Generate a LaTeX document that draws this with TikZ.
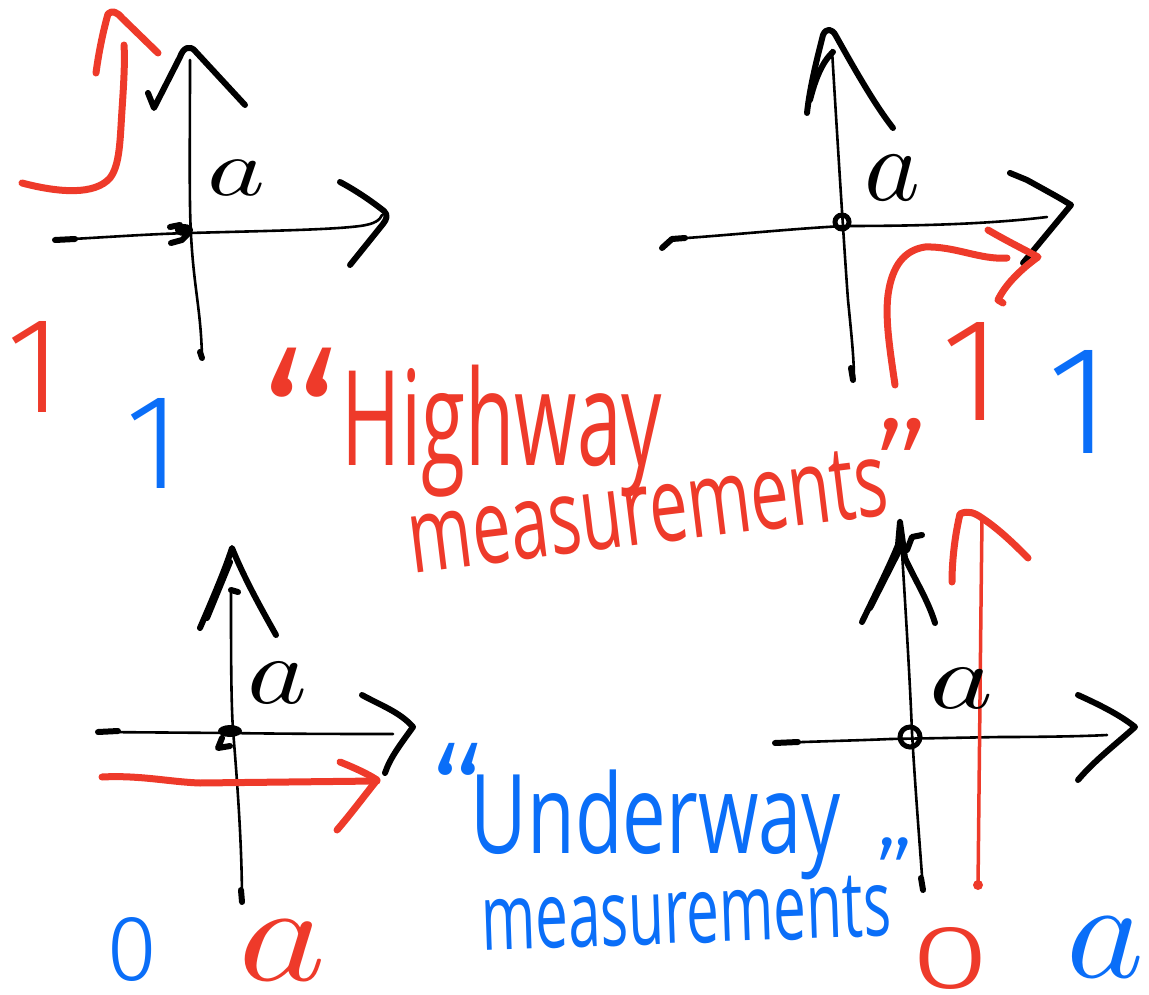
\documentclass[tikz,border=0pt]{standalone}
\usepackage{fontspec}
\setmainfont{Open Sans}
\newfontfamily\thinfont{Fira Sans}[UprightFont={* Light}]
\usepackage{graphicx}
\definecolor{hred}{HTML}{EE3A2A}
\definecolor{hblue}{HTML}{0A6EF8}
\tikzset{
  axisline/.style={line width=2.6pt, line cap=round, line join=round, black},
  headline/.style={line width=6pt, line cap=round, line join=round, black},
  redline/.style={line width=7pt, line cap=round, line join=round, hred},
  lbl/.style={inner sep=0pt, outer sep=0pt},
  redlbl/.style={lbl, text=hred},
  bluelbl/.style={lbl, text=hblue},
  blacklbl/.style={lbl, text=black},
}
\newcommand{\fitbox}[3]{\resizebox*{#1}{#2}{#3}}
\begin{document}
\begin{tikzpicture}[x=1pt,y=-1pt]
\useasboundingbox (0,0) rectangle (1149,995);

% ---------- panel 1 (top left) ----------
\draw[axisline] (190,60) .. controls (190,140) and (189,200) .. (191,235) .. controls (194,290) and (201,310) .. (202,358);
\draw[axisline] (55,240) .. controls (110,237) and (150,234) .. (190,233) .. controls (260,231) and (330,230) .. (360,226) .. controls (375,224) and (380,220) .. (382,215);
\draw[headline] (55,240) -- (75,239);
\draw[headline] (148,93) -- (154,108) -- (180,57) .. controls (183,48) and (190,44) .. (196,52) -- (245,105);
\draw[headline] (340,182) .. controls (355,190) and (370,200) .. (384,211) .. controls (388,215) and (387,219) .. (383,224) -- (350,265);
\draw[headline] (200,352) -- (202,358);
\fill (184,230) ellipse [x radius=9, y radius=6];
\draw[headline] (170,227) -- (180,225);
\draw[headline] (171,243) -- (182,240) -- (188,234);
\draw[redline] (22,183) .. controls (60,193) and (95,195) .. (110,178) .. controls (120,165) and (120,140) .. (122,110) .. controls (124,80) and (125,60) .. (124,45);
\draw[redline] (96,73) .. controls (99,50) and (104,28) .. (108,14) .. controls (112,10) and (117,12) .. (122,18) -- (158,53);
\node[blacklbl] (a1) at (237,178) {\fitbox{58pt}{35pt}{$a$}};
\node[redlbl] (r1a) at (35,367) {\fitbox{!}{91pt}{\thinfont 1}};
\node[bluelbl] (b1a) at (153,443) {\fitbox{!}{90pt}{\thinfont 1}};

% ---------- panel 2 (top right) ----------
\draw[axisline] (832,50) .. controls (838,150) and (845,260) .. (848,300) .. controls (852,340) and (854,360) .. (854,380);
\draw[headline] (851,368) -- (853,380);
\draw[axisline] (672,239) .. controls (720,236) and (800,228) .. (845,226) .. controls (920,226) and (990,224) .. (1047,217);
\draw[headline] (662,248) -- (672,239) -- (685,238);
\draw[headline] (1010,173) -- (1027,180) .. controls (1045,190) and (1060,198) .. (1071,205) -- (1023,263);
\draw[headline] (807,113) .. controls (810,85) and (818,55) .. (823,35) .. controls (826,28) and (832,28) .. (836,36) .. controls (855,70) and (875,105) .. (893,128);
\draw[headline] (810,100) .. controls (815,80) and (822,62) .. (833,52);
\draw[line width=5pt] (842,222) circle (7);
\draw[redline] (895,385) .. controls (890,350) and (885,320) .. (888,295) .. controls (892,265) and (905,250) .. (925,247) .. controls (955,246) and (980,260) .. (1007,258);
\draw[redline] (988,230) .. controls (1005,240) and (1025,250) .. (1038,257) .. controls (1020,270) and (1005,285) .. (998,300) -- (1003,303);
\node[blacklbl] (a2) at (892,178) {\fitbox{56pt}{45pt}{$a$}};
\node[redlbl] (r2a) at (972,371) {\fitbox{!}{98pt}{\thinfont 1}};
\node[bluelbl] (b2a) at (1079,402) {\fitbox{!}{103pt}{\thinfont 1}};

% ---------- panel 3 (bottom left) ----------
\draw[axisline] (231,590) .. controls (231,650) and (231,700) .. (233,730) .. controls (238,790) and (242,850) .. (242,902);
\draw[headline] (238,592) -- (231,590);
\draw[headline] (241,890) -- (242,902);
\draw[headline] (200,628) .. controls (212,600) and (225,570) .. (232,548) .. controls (245,580) and (262,610) .. (276,635);
\draw[headline] (207,618) -- (230,562);
\draw[axisline] (98,732) -- (227,733) .. controls (300,734) and (350,734) .. (393,734);
\draw[headline] (98,732) -- (118,731);
\draw[headline] (362,695) .. controls (380,705) and (400,712) .. (413,727) .. controls (400,745) and (390,758) .. (385,773);
\fill (230,731) ellipse [x radius=12, y radius=6];
\draw[headline] (222,738) -- (218,748) -- (230,746);
\draw[redline] (102,777) .. controls (140,775) and (170,782) .. (200,783) -- (377,781);
\draw[redline] (340,762) .. controls (355,768) and (368,774) .. (377,780) .. controls (365,795) and (350,815) .. (337,830);
\node[blacklbl] (a3) at (278,683) {\fitbox{60pt}{41pt}{$a$}};
\node[bluelbl] (b3a) at (132,950) {\fitbox{!}{64pt}{\thinfont 0}};
\node[redlbl] (r3a) at (283,950) {\fitbox{88pt}{60pt}{$a$}};

% ---------- panel 4 (bottom right) ----------
\draw[axisline] (900,520) .. controls (905,600) and (910,680) .. (912,733) .. controls (916,800) and (921,860) .. (923,890);
\draw[headline] (921,878) -- (923,890);
\draw[headline] (862,622) .. controls (875,595) and (890,565) .. (898,545) -- (900,522) -- (905,558) .. controls (915,580) and (928,600) .. (935,623);
\draw[headline] (870,608) -- (902,545);
\draw[headline] (922,535) -- (912,537) -- (907,550);
\draw[axisline] (775,743) .. controls (830,741) and (870,740) .. (890,739) -- (1000,737) .. controls (1050,737) and (1090,736) .. (1107,735);
\draw[headline] (775,743) -- (798,742);
\draw[headline] (1078,695) .. controls (1100,705) and (1120,715) .. (1135,727) .. controls (1115,745) and (1095,760) .. (1078,780);
\draw[line width=5pt] (910,737) circle (10);
\draw[hred, line width=3.5pt, line cap=round] (978,887) .. controls (980,700) and (981,600) .. (982,520);
\fill[hred] (978,885) circle (5);
\draw[redline] (952,582) .. controls (952,560) and (955,535) .. (960,514) .. controls (968,510) and (975,513) .. (982,518) .. controls (1000,530) and (1015,545) .. (1028,558);
\node[blacklbl] (a4) at (962,688) {\fitbox{64pt}{40pt}{$a$}};
\node[redlbl] (r4a) at (950,958) {\fitbox{80pt}{62pt}{\thinfont 0}};
\node[bluelbl] (b4a) at (1106,947) {\fitbox{78pt}{60pt}{$a$}};

% ---------- captions ----------
\node[redlbl, anchor=north] (hq1) at (300,348) {\fontsize{230}{230}\selectfont\thinfont “};
\node[redlbl] (hw) at (502,431) {\fitbox{320pt}{132pt}{Highway}};
\node[redlbl, rotate=7] (hm) at (648,510) {\fitbox{482pt}{70pt}{measurements}};
\node[redlbl, anchor=north] (hq2) at (902,418) {\fontsize{150}{150}\selectfont\thinfont ”};

\node[bluelbl, anchor=north] (uq1) at (457,743) {\fontsize{150}{150}\selectfont\thinfont “};
\node[bluelbl] (uw) at (656,825) {\fitbox{370pt}{110pt}{Underway}};
\node[bluelbl, rotate=2] (um) at (686,913) {\fitbox{410pt}{62pt}{measurements}};
\node[bluelbl, anchor=north] (uq2) at (895,838) {\fontsize{105}{105}\selectfont\thinfont ”};
\end{tikzpicture}
\end{document}
